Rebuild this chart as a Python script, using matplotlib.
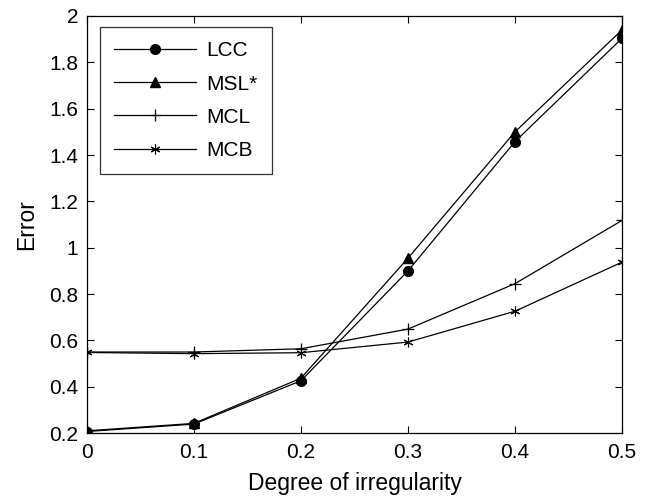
import matplotlib
matplotlib.use("Agg")
import matplotlib.pyplot as plt

plt.rcParams['font.family'] = ['Liberation Sans', 'DejaVu Sans']

x = [0, 0.1, 0.2, 0.3, 0.4, 0.5]
lcc = [0.207, 0.239, 0.426, 0.90, 1.458, 1.904]
msl = [0.21, 0.242, 0.437, 0.955, 1.50, 1.94]
mcl = [0.55, 0.55, 0.564, 0.649, 0.845, 1.118]
mcb = [0.548, 0.543, 0.547, 0.593, 0.726, 0.938]

labels = ["LCC", "MSL*", "MCL", "MCB"]
yticks = [0.2, 0.4, 0.6, 0.8, 1, 1.2, 1.4, 1.6, 1.8, 2]
xticks = [0, 0.1, 0.2, 0.3, 0.4, 0.5]

fig = plt.figure(figsize=(6.48, 4.99), dpi=100)
ax = fig.add_axes([0.134, 0.132, 0.826, 0.836])

ax.plot(x, lcc, "k-", marker="o", ms=7, lw=0.9, label=labels[0])
ax.plot(x, msl, "k-", marker="^", ms=7, lw=0.9, label=labels[1])
ax.plot(x, mcl, "k-", marker="+", ms=9, mew=0.9, lw=0.9, label=labels[2])
ax.plot(x, mcb, "k-", marker=(6, 2, 0), ms=7, mew=0.8, lw=0.9, label=labels[3])

ax.set_xlim(0, 0.5)
ax.set_ylim(0.2, 2)
ax.set_xticks(xticks)
ax.set_xticklabels(["0", "0.1", "0.2", "0.3", "0.4", "0.5"])
ax.set_yticks(yticks)
ax.set_yticklabels(["0.2", "0.4", "0.6", "0.8", "1", "1.2", "1.4", "1.6", "1.8", "2"])
ax.tick_params(direction="in", top=True, right=True, labelsize=15, length=5, width=0.8)
ax.tick_params(axis="x", pad=7)
ax.tick_params(axis="y", pad=6)
for s in ax.spines.values():
    s.set_linewidth(0.9)

ax.set_xlabel("Degree of irregularity", fontsize=16.5, labelpad=7)
ax.set_ylabel("Error", fontsize=16.5, labelpad=8)

leg = ax.legend(loc="upper left", fontsize=15, frameon=True, fancybox=False,
                edgecolor="k", handlelength=3.9, handletextpad=0.5,
                borderpad=0.7, labelspacing=0.68, borderaxespad=0,
                bbox_to_anchor=(0.024, 0.974))
leg.get_frame().set_linewidth(0.9)

fig.savefig("out.png", dpi=100)
